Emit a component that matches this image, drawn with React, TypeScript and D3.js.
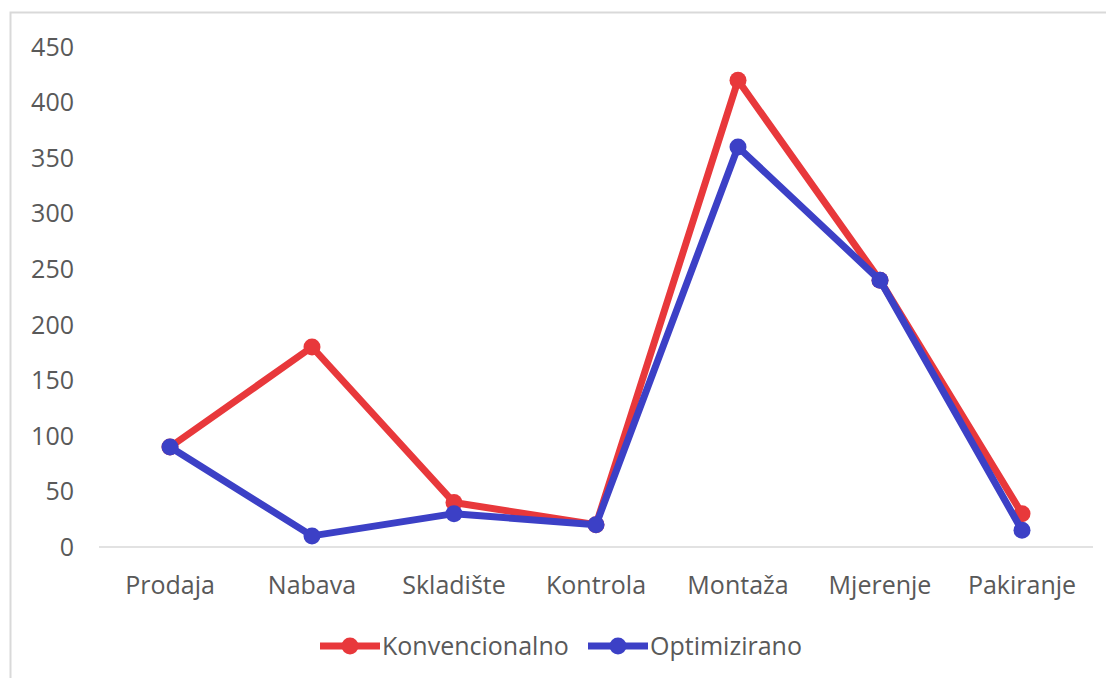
import { useEffect, useRef } from 'react';
import * as d3 from 'd3';

const categories = ['Prodaja', 'Nabava', 'Skladište', 'Kontrola', 'Montaža', 'Mjerenje', 'Pakiranje'];
const konvencionalno = [90, 180, 40, 20, 420, 240, 30];
const optimizirano = [90, 10, 30, 20, 360, 240, 15];
const yTicks = [0, 50, 100, 150, 200, 250, 300, 350, 400, 450];

const series = [
  { name: 'Konvencionalno', values: konvencionalno, color: '#E8383B' },
  { name: 'Optimizirano', values: optimizirano, color: '#3C40C6' },
];

const App = () => {
  const ref = useRef(null);

  useEffect(() => {
    const width = 1114;
    const height = 686;
    const font = '"Open Sans", "Noto Sans", sans-serif';
    const fontSize = '25px';

    const svg = d3.select(ref.current)
      .attr('width', width)
      .attr('height', height)
      .style('display', 'block')
      .style('background', '#fff');
    svg.selectAll('*').remove();

    // frame
    svg.append('path')
      .attr('d', `M10.5,${height} V12.5 H${width}`)
      .attr('fill', 'none')
      .attr('stroke', '#d9d9d9')
      .attr('stroke-width', 2);

    const x = d3.scaleBand().domain(categories).range([99, 1093]);
    const y = d3.scaleLinear().domain([0, 450]).range([547, 47]);

    svg.append('line')
      .attr('x1', 99).attr('x2', 1093)
      .attr('y1', y(0)).attr('y2', y(0))
      .attr('stroke', '#d9d9d9')
      .attr('stroke-width', 1.5);

    svg.selectAll('.ytick')
      .data(yTicks)
      .join('text')
      .attr('class', 'ytick')
      .attr('x', 74)
      .attr('y', (d) => y(d))
      .attr('dy', '0.35em')
      .attr('text-anchor', 'end')
      .attr('font-family', font)
      .attr('font-size', fontSize)
      .attr('fill', '#595959')
      .text((d) => d);

    svg.selectAll('.xtick')
      .data(categories)
      .join('text')
      .attr('class', 'xtick')
      .attr('x', (d) => x(d) + x.bandwidth() / 2)
      .attr('y', 585)
      .attr('dy', '0.35em')
      .attr('text-anchor', 'middle')
      .attr('font-family', font)
      .attr('font-size', fontSize)
      .attr('fill', '#595959')
      .text((d) => d);

    const line = d3.line()
      .x((d, i) => x(categories[i]) + x.bandwidth() / 2)
      .y((d) => y(d));

    series.forEach((s) => {
      const g = svg.append('g');
      g.append('path')
        .attr('d', line(s.values))
        .attr('fill', 'none')
        .attr('stroke', s.color)
        .attr('stroke-width', 7)
        .attr('stroke-linejoin', 'round');
      g.selectAll('circle')
        .data(s.values)
        .join('circle')
        .attr('cx', (d, i) => x(categories[i]) + x.bandwidth() / 2)
        .attr('cy', (d) => y(d))
        .attr('r', 8.5)
        .attr('fill', s.color);
    });

    // legend
    const legendX = [320, 588];
    const legend = svg.selectAll('.legend')
      .data(series)
      .join('g')
      .attr('class', 'legend')
      .attr('transform', (d, i) => `translate(${legendX[i]},646)`);
    legend.append('line')
      .attr('x1', 0).attr('x2', 60)
      .attr('stroke', (d) => d.color)
      .attr('stroke-width', 7);
    legend.append('circle')
      .attr('cx', 30)
      .attr('r', 8.5)
      .attr('fill', (d) => d.color);
    legend.append('text')
      .attr('x', 62)
      .attr('dy', '0.35em')
      .attr('font-family', font)
      .attr('font-size', fontSize)
      .attr('fill', '#595959')
      .text((d) => d.name);
  }, []);

  return (
    <div style={{ margin: -8 }}>
      <svg ref={ref}></svg>
    </div>
  );
};

export default App;
